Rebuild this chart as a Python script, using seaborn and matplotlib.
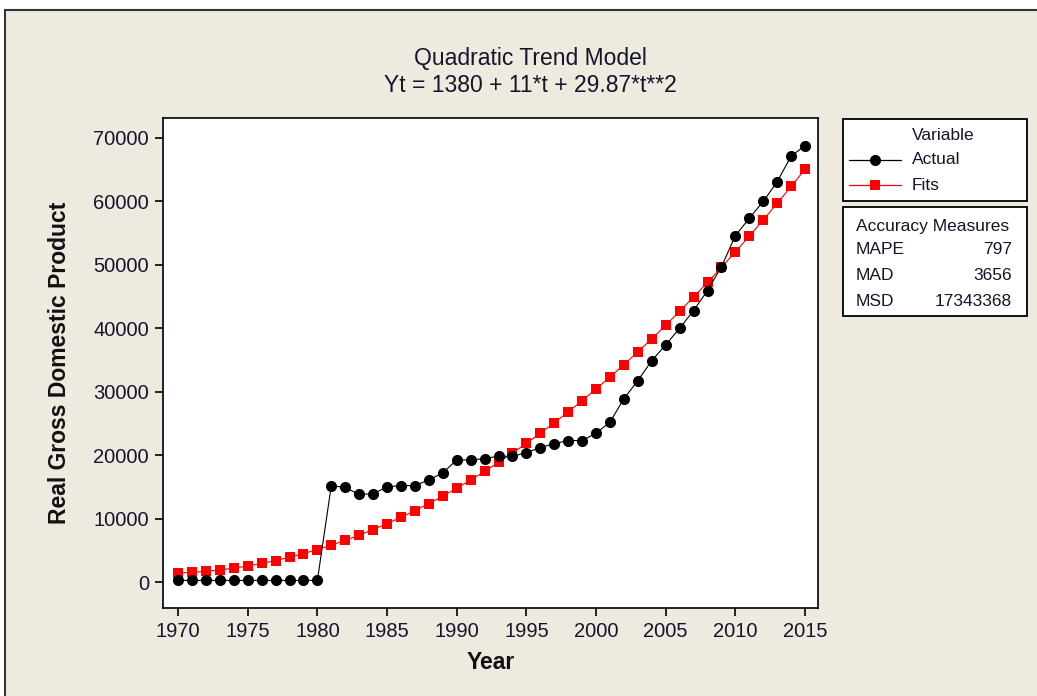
import matplotlib
matplotlib.use("Agg")
import matplotlib.pyplot as plt
from matplotlib.patches import Rectangle
from matplotlib.lines import Line2D
import seaborn as sns
import pandas as pd

years = list(range(1970, 2016))
actual = [250, 250, 250, 250, 250, 250, 250, 250, 250, 250, 250,
          15200, 14900, 13800, 13900, 15000, 15200, 15200, 16100, 17200,
          19250, 19250, 19450, 19850, 19800, 20400, 21200, 21800, 22300, 22300,
          23450, 25200, 28900, 31750, 34900, 37400, 40000, 42800, 45950, 49700,
          54600, 57350, 60000, 63100, 67150, 68800]
fits = [1421, 1522, 1682, 1902, 2182, 2521, 2920, 3379, 3898, 4477,
        5115, 5813, 6571, 7388, 8266, 9203, 10199, 11256, 12372, 13548,
        14784, 16079, 17434, 18849, 20324, 21858, 23452, 25106, 26820, 28593,
        30426, 32319, 34271, 36283, 38355, 40487, 42678, 44929, 47240, 49611,
        52041, 54531, 57081, 59690, 62359, 65088]
x_ticks = [1970, 1975, 1980, 1985, 1990, 1995, 2000, 2005, 2010, 2015]
y_ticks = [0, 10000, 20000, 30000, 40000, 50000, 60000, 70000]
title_lines = ["Quadratic Trend Model", "Yt = 1380 + 11*t + 29.87*t**2"]
measures = [("MAPE", "797"), ("MAD", "3656"), ("MSD", "17343368")]

sns.set_style("white")
plt.rcParams['font.family'] = ['Liberation Sans', 'DejaVu Sans']
plt.rcParams['text.color'] = '#15152a'
plt.rcParams['xtick.color'] = 'black'
plt.rcParams['ytick.color'] = 'black'

TXT = "#15152a"
BG = "#EEEAE0"
fig = plt.figure(figsize=(10.37, 6.96), dpi=100)
fig.patch.set_facecolor("white")
fig.patches.append(Rectangle((5 / 1037, -0.1), 1.1, 1.1 - 10 / 696, transform=fig.transFigure,
                             facecolor=BG, edgecolor="#333333", linewidth=1.5, zorder=-10))

ax = fig.add_axes([163 / 1037, 1 - 608 / 696, (818 - 163) / 1037, (608 - 118) / 696])
ax.set_facecolor("white")

df = pd.DataFrame({"Year": years, "Actual": actual, "Fits": fits})
sns.lineplot(data=df, x="Year", y="Fits", ax=ax, color="#FF0000", marker="s",
             markersize=7.2, markeredgewidth=0, linewidth=0.8, zorder=2)
sns.lineplot(data=df, x="Year", y="Actual", ax=ax, color="black", marker="o",
             markersize=8, markeredgewidth=0, linewidth=0.8, zorder=3)

ax.set_xlim(1968.92, 2015.93)
ax.set_ylim(-4099, 73153)
ax.set_xticks(x_ticks)
ax.set_yticks(y_ticks)
ax.set_xticklabels([str(v) for v in x_ticks], fontsize=14.5, color=TXT)
ax.set_yticklabels([str(v) for v in y_ticks], fontsize=14.5, color=TXT)
ax.tick_params(axis="both", direction="out", length=6, width=1.2,
               bottom=True, left=True, pad=4)
for s in ax.spines.values():
    s.set_color("black")
    s.set_linewidth(1.2)
ax.set_xlabel("Year", fontsize=16.5, fontweight="bold", labelpad=7, color="#111111")
ax.set_ylabel("Real Gross Domestic Product", fontsize=16.5, fontweight="bold", labelpad=16,
              color="#111111")

fig.text(530 / 1037, 1 - 58 / 696, title_lines[0], ha="center", va="center", fontsize=16.5)
fig.text(530 / 1037, 1 - 86 / 696, title_lines[1], ha="center", va="center", fontsize=16.5)

# legend box
fig.patches.append(Rectangle((843 / 1037, 1 - 201 / 696), 184 / 1037, 82 / 696,
                             transform=fig.transFigure, facecolor="white",
                             edgecolor="black", linewidth=1.3))
fig.text(943 / 1037, 1 - 135 / 696, "Variable", ha="center", va="center", fontsize=12.5)
fig.lines.append(Line2D([849 / 1037, 901 / 1037], [1 - 160 / 696] * 2, transform=fig.transFigure,
                        color="black", linewidth=0.9))
fig.lines.append(Line2D([875 / 1037], [1 - 160 / 696], transform=fig.transFigure,
                        color="black", marker="o", markersize=8, markeredgewidth=0))
fig.lines.append(Line2D([849 / 1037, 901 / 1037], [1 - 185 / 696] * 2, transform=fig.transFigure,
                        color="#FF0000", linewidth=0.9))
fig.lines.append(Line2D([875 / 1037], [1 - 185 / 696], transform=fig.transFigure,
                        color="#FF0000", marker="s", markersize=7.2, markeredgewidth=0))
fig.text(912 / 1037, 1 - 160 / 696, "Actual", ha="left", va="center", fontsize=12.5)
fig.text(912 / 1037, 1 - 185 / 696, "Fits", ha="left", va="center", fontsize=12.5)

# accuracy box
fig.patches.append(Rectangle((843 / 1037, 1 - 316 / 696), 184 / 1037, 109 / 696,
                             transform=fig.transFigure, facecolor="white",
                             edgecolor="black", linewidth=1.3))
fig.text(856 / 1037, 1 - 226 / 696, "Accuracy Measures", ha="left", va="center", fontsize=12.5)
for i, (name, val) in enumerate(measures):
    yy = 1 - (250 + 26 * i) / 696
    fig.text(856 / 1037, yy, name, ha="left", va="center", fontsize=12.5)
    fig.text(1012 / 1037, yy, val, ha="right", va="center", fontsize=12.5)

fig.savefig("out.png", dpi=100, facecolor=fig.get_facecolor())
